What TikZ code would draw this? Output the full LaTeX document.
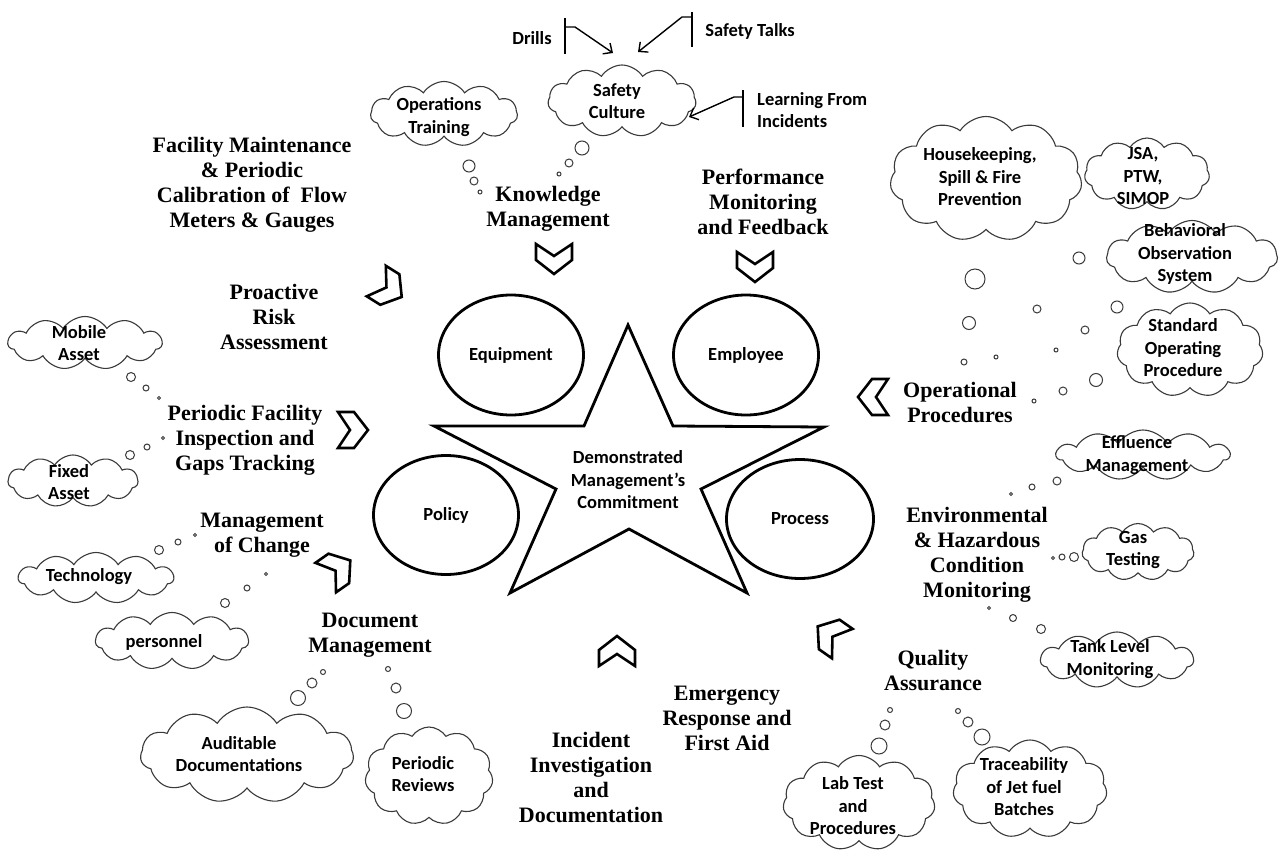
\documentclass[tikz,border=0pt]{standalone}
\usepackage{fontspec}
\setmainfont{Liberation Serif}
\newfontfamily\carl{Carlito}
\usetikzlibrary{shapes.symbols,shapes.geometric,arrows.meta}
\definecolor{cgray}{HTML}{3A3A3A}
\begin{document}
\begin{tikzpicture}[x=1pt,y=-1pt,
  ser/.style={font=\fontsize{22}{25}\selectfont\bfseries, align=center, inner sep=0pt},
  san/.style={font=\carl\fontsize{18.5}{22.5}\selectfont\bfseries, align=center, inner sep=0pt},
  cloudy/.style={cloud, cloud puffs=11, cloud puff arc=115, draw=cgray, line width=1.1pt, fill=white, inner sep=0pt},
  ell/.style={ellipse, draw=black, line width=2.8pt, fill=white, inner sep=0pt, font=\carl\fontsize{18.5}{22.5}\selectfont\bfseries},
  chevline/.style={draw=black, line width=2.6pt, line join=miter, fill=white},
  bub/.style={draw=cgray, line width=1pt, fill=white},
  brk/.style={draw=black, line width=1.4pt},
  arr/.style={draw=black, line width=1.4pt, -{Straight Barb[length=7pt,width=13pt]}},
  chev/.pic={\path[chevline] (-15,-18) -- (-3,0) -- (-15,18) -- (1,18) -- (15,0) -- (1,-18) -- cycle;}
]
\useasboundingbox[fill=white] (0,0) rectangle (1279,851);

% ---------- star ----------
\path[draw=black, line width=2.8pt, line join=miter, fill=white]
  (628,325) -- (673,426) -- (824,427) -- (701,489) -- (747,593) -- (629,529)
  -- (510,593) -- (556,489) -- (434,426) -- (584,426) -- cycle;
\node[san] (dmc) at (628,480) {Demonstrated\\Management’s\\Commitment};

% ---------- ellipses ----------
\node[ell, minimum width=145pt, minimum height=120pt] (equip) at (511,355) {Equipment};
\node[ell, minimum width=145pt, minimum height=120pt] (empl) at (746,355) {Employee};
\node[ell, minimum width=145pt, minimum height=119pt] (policy) at (446,515) {Policy};
\node[ell, minimum width=147pt, minimum height=119pt] (process) at (800,519) {Process};

% ---------- chevrons ----------
\pic[rotate=-90] at (554,259) {chev};
\pic[rotate=-90] at (755,267) {chev};
\pic[rotate=-32] at (389,289) {chev};
\pic at (353,430) {chev};
\pic[rotate=35] at (338,569) {chev};
\pic[rotate=90] at (617,651) {chev};
\pic[rotate=145] at (830,635) {chev};
\pic[rotate=180] at (873,397) {chev};

% ---------- serif labels ----------
\node[ser] (fm) at (252,185) {Facility Maintenance\\\& Periodic\\Calibration of~ Flow\\Meters \& Gauges};
\node[ser] (pra) at (274,317) {Proactive\\Risk\\Assessment};
\node[ser] (pfi) at (245,440) {Periodic Facility\\Inspection and\\Gaps Tracking};
\node[ser] (moc) at (262,535) {Management\\of Change};
\node[ser] (dm) at (370,635) {Document\\Management};
\node[ser] (iid) at (591,777) {Incident\\Investigation\\and\\Documentation};
\node[ser] (erf) at (727,718) {Emergency\\Response and\\First Aid};
\node[ser] (qa) at (933,670) {Quality\\Assurance};
\node[ser] (ehc) at (977,555) {Environmental\\\& Hazardous\\Condition\\Monitoring};
\node[ser] (op) at (960,402) {Operational\\Procedures};
\node[ser] (pmf) at (763,202) {Performance\\Monitoring\\and Feedback};
\node[ser] (km) at (548,209) {Knowledge\\Management};

% ---------- clouds ----------
\node[cloudy, minimum width=148pt, minimum height=72pt] (sc) at (622,101) {};
\node[cloudy, minimum width=147pt, minimum height=65pt] (ot) at (444,114) {};
\node[cloudy, minimum width=154pt, minimum height=53pt] (ma) at (85,343) {};
\node[cloudy, minimum width=130pt, minimum height=52pt] (fa) at (73,481) {};
\node[cloudy, minimum width=155pt, minimum height=51pt] (te) at (96,578) {};
\node[cloudy, minimum width=153pt, minimum height=57pt] (pe) at (172,641) {};
\node[cloudy, minimum width=213pt, minimum height=96pt] (ad) at (247,755) {};
\node[cloudy, minimum width=128pt, minimum height=98pt] (pr) at (429,776) {};
\node[cloudy, minimum width=152pt, minimum height=95pt] (lt) at (859,803) {};
\node[cloudy, minimum width=154pt, minimum height=98pt] (tr) at (1030,789) {};
\node[cloudy, minimum width=153pt, minimum height=56pt] (tl) at (1117,660) {};
\node[cloudy, minimum width=112pt, minimum height=57pt] (gt) at (1138,552) {};
\node[cloudy, minimum width=173pt, minimum height=50pt] (em) at (1143,455) {};
\node[cloudy, minimum width=146pt, minimum height=94pt] (sop) at (1190,350) {};
\node[cloudy, minimum width=171pt, minimum height=73pt] (bos) at (1192,257) {};
\node[cloudy, minimum width=125pt, minimum height=72pt] (jsa) at (1147,174) {};
\node[cloudy, minimum width=192pt, minimum height=125pt] (hk) at (986,179) {};

% ---------- cloud texts ----------
\node[san] (tsc) at (617,101) {Safety\\Culture};
\node[san] (tot) at (439,117) {Operations\\Training};
\node[san] (tma) at (79,343) {Mobile\\Asset};
\node[san] (tfa) at (69,482) {Fixed\\Asset};
\node[san] (tte) at (89,577) {Technology};
\node[san] (tpe) at (164,642) {personnel};
\node[san] (tad) at (239,754) {Auditable\\Documentations};
\node[san] (tpr) at (423,774) {Periodic\\Reviews};
\node[san] (tlt) at (853,806) {Lab Test\\and\\Procedures};
\node[san] (ttr) at (1024,787) {Traceability\\of Jet fuel\\Batches};
\node[san] (ttl) at (1110,659) {Tank Level\\Monitoring};
\node[san] (tgt) at (1133,550) {Gas\\Testing};
\node[san] (tem) at (1137,455) {Effluence\\Management};
\node[san] (tsop) at (1183,348) {Standard\\Operating\\Procedure};
\node[san] (tbos) at (1185,254) {Behavioral\\Observation\\System};
\node[san] (tjsa) at (1143,176) {JSA,\\PTW,\\SIMOP};
\node[san] (thk) at (980,177) {Housekeeping,\\Spill \& Fire\\Prevention};

% ---------- thought bubbles ----------
\foreach \x/\y/\r in {582/148/7, 569/163/4, 559/174/2,
  469/166/6, 474/181/4, 480/192/2,
  131/377/4.5, 146/388/3, 159/398/1.5,
  130/455/4.5, 147/447/3, 163/438/1.5,
  159/550/4.5, 178/542/3, 195/535/1.5,
  225/603/4.5, 247/588/3, 266/574/1.5,
  298/698/7.5, 312/683/5, 323/672/2.5,
  388/669/2.5, 396/688/5, 404/711/7.5,
  975/279/10, 1079/258/6, 1037/309/4, 969/323/6.5, 1117/307/6, 1085/330/4,
  964/362/3, 996/357/2, 1056/350/2, 1096/380/6.5, 1063/391/4, 1034/401/2,
  1057/481/4, 1032/487/3, 1011/494/1.5,
  1074/557/4.5, 1062/557/3, 1053/558/1.5,
  989/608/1.5, 1013/618/3.5, 1041/629/4.5,
  890/710/2.5, 885/725/5, 879/746/8,
  958/711/2.5, 968/722/5, 982/737/8}
  {\path[bub] (\x,\y) circle[radius=\r pt];}

% ---------- inputs to safety culture ----------
\node[san] (dr) at (532,38) {Drills};
\node[san] (st) at (750,31) {Safety Talks};
\node[san, anchor=west, align=left] (lfi) at (757,110) {Learning From\\Incidents};

\coordinate (drA) at (565,18); \coordinate (drB) at (565,54);
\coordinate (drC) at (565,27); \coordinate (drD) at (575,27); \coordinate (drE) at (613,53);
\draw[brk] (drA) -- (drB);
\draw[arr] (drC) -- (drD) -- (drE);

\coordinate (stA) at (692,12); \coordinate (stB) at (692,47);
\coordinate (stC) at (692,17); \coordinate (stD) at (682,17); \coordinate (stE) at (638,52);
\draw[brk] (stA) -- (stB);
\draw[arr] (stC) -- (stD) -- (stE);

\coordinate (lfA) at (743,90); \coordinate (lfB) at (743,127);
\coordinate (lfC) at (743,97); \coordinate (lfD) at (734,97); \coordinate (lfE) at (689,117);
\draw[brk] (lfA) -- (lfB);
\draw[arr] (lfC) -- (lfD) -- (lfE);
\end{tikzpicture}
\end{document}
